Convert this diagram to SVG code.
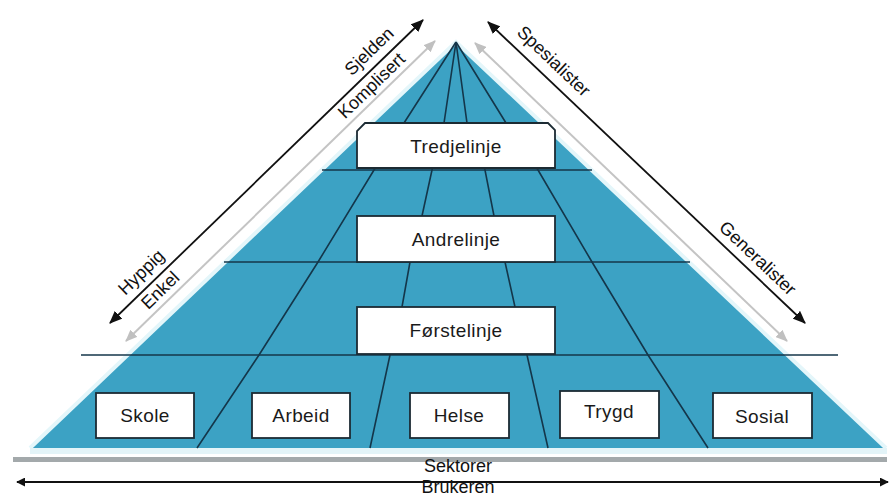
<svg xmlns="http://www.w3.org/2000/svg" width="894" height="497" viewBox="0 0 894 497">
<defs>
<style>
.box{fill:#ffffff;stroke:#1c2b33;stroke-width:1.8}
.lbl{font-family:"Liberation Sans",Arial,sans-serif;font-size:19px;letter-spacing:0.4px;fill:#1a1a1a;text-anchor:middle}
.side{font-family:"Liberation Sans",Arial,sans-serif;font-size:18px;fill:#111;text-anchor:middle}
.grid{stroke:#14364a;stroke-width:1.6;fill:none}
.blk{stroke:#111;stroke-width:1.8;fill:none}
.gry{stroke:#c4c4c4;stroke-width:2;fill:none}
</style>
<marker id="ab" viewBox="0 0 12 10" refX="11" refY="5" markerWidth="13" markerHeight="11" markerUnits="userSpaceOnUse" orient="auto-start-reverse"><path d="M0,0 L12,5 L0,10 z" fill="#111"/></marker>
<marker id="ag" viewBox="0 0 12 10" refX="11" refY="5" markerWidth="12" markerHeight="10" markerUnits="userSpaceOnUse" orient="auto-start-reverse"><path d="M0,0 L12,5 L0,10 z" fill="#c0c0c0"/></marker>
<marker id="as" viewBox="0 0 10 10" refX="9" refY="5" markerWidth="9" markerHeight="9" markerUnits="userSpaceOnUse" orient="auto-start-reverse"><path d="M0,0 L10,5 L0,10 z" fill="#111"/></marker>
</defs>
<rect width="894" height="497" fill="#ffffff"/>
<g id="pyramid">
<polygon points="456,42 30,448 886,448" fill="#3ca2c4"/>
<polyline points="30,448 456,42 886,448" fill="none" stroke="#e4f6fa" stroke-width="4"/>
<rect x="30" y="448" width="857" height="6" fill="#e3f4f8"/>
<rect x="13" y="457" width="874" height="5" fill="#a3a9ab"/>
<line class="grid" x1="322" y1="170" x2="592" y2="170"/>
<line class="grid" x1="224" y1="262" x2="690" y2="262"/>
<line class="grid" x1="81" y1="355" x2="838" y2="355"/>
<polyline class="grid" points="456,42 404,123 374,170 318,262 259,355 197,448"/>
<polyline class="grid" points="456,42 444,123 432,170 422,216 410,262 402,307 390,355 370,448"/>
<polyline class="grid" points="456,42 467,123 485,170 494,216 505,262 515,307 527,355 548,448"/>
<polyline class="grid" points="456,42 506,123 538,170 592,262 648,355 708,448"/>
</g>
<g id="connectors">
<line class="blk" x1="110" y1="323" x2="423" y2="20" marker-start="url(#ab)" marker-end="url(#ab)"/>
<line class="gry" x1="126" y1="341" x2="435" y2="41" marker-start="url(#ag)" marker-end="url(#ag)"/>
<line class="blk" x1="488" y1="22" x2="805" y2="323" marker-start="url(#ab)" marker-end="url(#ab)"/>
<line class="gry" x1="475" y1="43" x2="787" y2="341" marker-start="url(#ag)" marker-end="url(#ag)"/>
<line class="blk" x1="17" y1="482" x2="888" y2="482" stroke-width="1.6" marker-start="url(#as)" marker-end="url(#as)"/>
</g>
<g id="label-sjelden"><text class="side" x="369" y="51" dy="0.35em" transform="rotate(-44 369 51)">Sjelden</text></g>
<g id="label-komplisert"><text class="side" x="371.3" y="85.4" dy="0.35em" font-size="16" transform="rotate(-44 371.3 85.4)">Komplisert</text></g>
<g id="label-hyppig"><text class="side" x="141" y="272" dy="0.35em" transform="rotate(-44 141 272)">Hyppig</text></g>
<g id="label-enkel"><text class="side" x="160" y="290" dy="0.35em" font-size="16" transform="rotate(-44 160 290)">Enkel</text></g>
<g id="label-spesialister"><text class="side" x="554" y="61" dy="0.35em" transform="rotate(43.5 554 61)">Spesialister</text></g>
<g id="label-generalister"><text class="side" x="758" y="258" dy="0.35em" transform="rotate(43.5 758 258)">Generalister</text></g>
<g id="tredjelinje">
<polygon class="box" points="365,123 548,123 555,130 555,168 357,168 357,131"/>
<text class="lbl" x="456" y="153">Tredjelinje</text>
</g>
<g id="andrelinje">
<rect class="box" x="357" y="216" width="198" height="46"/>
<text class="lbl" x="456" y="246">Andrelinje</text>
</g>
<g id="forstelinje">
<rect class="box" x="357" y="307" width="198" height="47"/>
<text class="lbl" x="456" y="337">Førstelinje</text>
</g>
<g id="skole">
<rect class="box" x="96" y="393" width="98" height="45"/>
<text class="lbl" x="145" y="422">Skole</text>
</g>
<g id="arbeid">
<rect class="box" x="252" y="393" width="98" height="45"/>
<text class="lbl" x="301" y="422">Arbeid</text>
</g>
<g id="helse">
<rect class="box" x="410" y="393" width="99" height="45"/>
<text class="lbl" x="459" y="422">Helse</text>
</g>
<g id="trygd">
<rect class="box" x="560" y="391" width="99" height="47"/>
<text class="lbl" x="609" y="418">Trygd</text>
</g>
<g id="sosial">
<rect class="box" x="713" y="393" width="99" height="45"/>
<text class="lbl" x="762" y="423">Sosial</text>
</g>
<g id="label-sektorer"><text class="side" x="458" y="472" font-size="16">Sektorer</text></g>
<g id="label-brukeren"><text class="side" x="458" y="493" font-size="15">Brukeren</text></g>
</svg>
